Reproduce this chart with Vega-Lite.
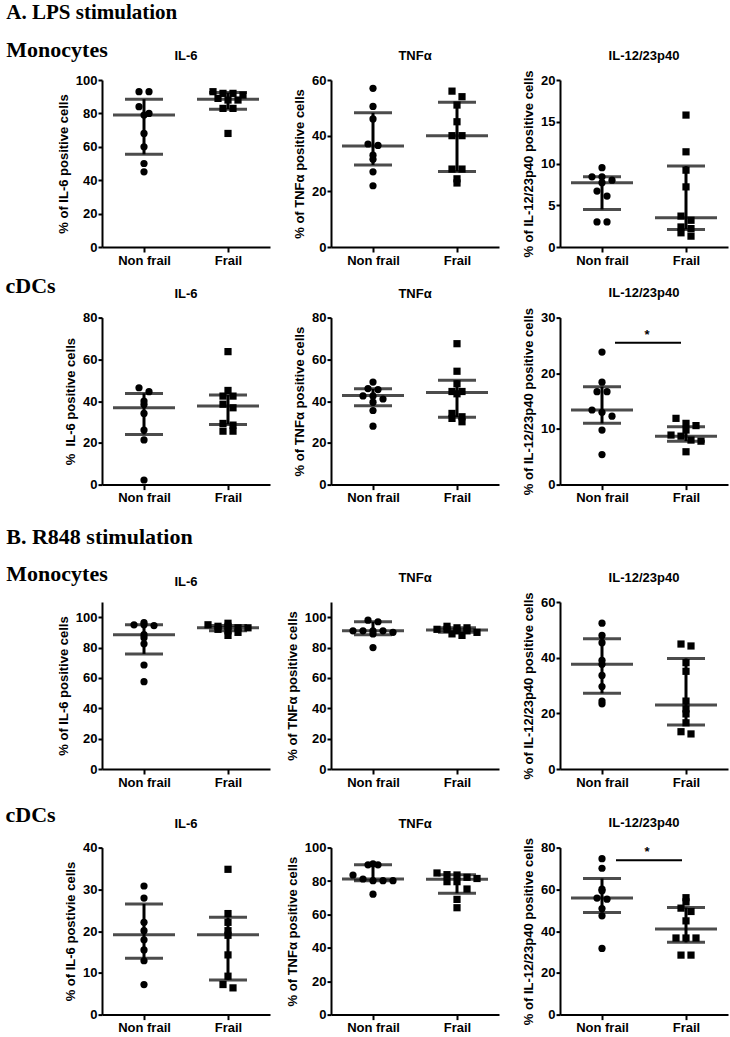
{
"$schema": "https://vega.github.io/schema/vega-lite/v6.json",
"padding": {"left": 5, "top": 1, "right": 2, "bottom": 0},
"background": "white",
"datasets": {
"pts": [
{"panel":"A1","group":"Non frail","value":93},{"panel":"A1","group":"Non frail","value":93},{"panel":"A1","group":"Non frail","value":84},{"panel":"A1","group":"Non frail","value":80},{"panel":"A1","group":"Non frail","value":79},{"panel":"A1","group":"Non frail","value":68},{"panel":"A1","group":"Non frail","value":60},{"panel":"A1","group":"Non frail","value":50},{"panel":"A1","group":"Non frail","value":45},
{"panel":"A1","group":"Frail","value":93},{"panel":"A1","group":"Frail","value":92},{"panel":"A1","group":"Frail","value":92},{"panel":"A1","group":"Frail","value":91},{"panel":"A1","group":"Frail","value":89},{"panel":"A1","group":"Frail","value":88},{"panel":"A1","group":"Frail","value":88},{"panel":"A1","group":"Frail","value":83},{"panel":"A1","group":"Frail","value":83},{"panel":"A1","group":"Frail","value":68},
{"panel":"A2","group":"Non frail","value":57},{"panel":"A2","group":"Non frail","value":50.5},{"panel":"A2","group":"Non frail","value":46},{"panel":"A2","group":"Non frail","value":37},{"panel":"A2","group":"Non frail","value":36.5},{"panel":"A2","group":"Non frail","value":33},{"panel":"A2","group":"Non frail","value":31.5},{"panel":"A2","group":"Non frail","value":27},{"panel":"A2","group":"Non frail","value":22},
{"panel":"A2","group":"Frail","value":56},{"panel":"A2","group":"Frail","value":54},{"panel":"A2","group":"Frail","value":51},{"panel":"A2","group":"Frail","value":45},{"panel":"A2","group":"Frail","value":40},{"panel":"A2","group":"Frail","value":40},{"panel":"A2","group":"Frail","value":28},{"panel":"A2","group":"Frail","value":28},{"panel":"A2","group":"Frail","value":24.5},{"panel":"A2","group":"Frail","value":23},
{"panel":"A3","group":"Non frail","value":9.5},{"panel":"A3","group":"Non frail","value":8.4},{"panel":"A3","group":"Non frail","value":8.4},{"panel":"A3","group":"Non frail","value":8.0},{"panel":"A3","group":"Non frail","value":7.7},{"panel":"A3","group":"Non frail","value":6.7},{"panel":"A3","group":"Non frail","value":6.1},{"panel":"A3","group":"Non frail","value":3.0},{"panel":"A3","group":"Non frail","value":3.0},
{"panel":"A3","group":"Frail","value":15.8},{"panel":"A3","group":"Frail","value":11.4},{"panel":"A3","group":"Frail","value":9.2},{"panel":"A3","group":"Frail","value":7.2},{"panel":"A3","group":"Frail","value":3.7},{"panel":"A3","group":"Frail","value":3.2},{"panel":"A3","group":"Frail","value":2.4},{"panel":"A3","group":"Frail","value":2.2},{"panel":"A3","group":"Frail","value":1.7},{"panel":"A3","group":"Frail","value":1.3},
{"panel":"A4","group":"Non frail","value":46.4},{"panel":"A4","group":"Non frail","value":44.5},{"panel":"A4","group":"Non frail","value":40},{"panel":"A4","group":"Non frail","value":38.4},{"panel":"A4","group":"Non frail","value":34.1},{"panel":"A4","group":"Non frail","value":26.1},{"panel":"A4","group":"Non frail","value":21.4},{"panel":"A4","group":"Non frail","value":2.2},
{"panel":"A4","group":"Frail","value":63.7},{"panel":"A4","group":"Frail","value":45.1},{"panel":"A4","group":"Frail","value":42.4},{"panel":"A4","group":"Frail","value":42.4},{"panel":"A4","group":"Frail","value":38.5},{"panel":"A4","group":"Frail","value":36.8},{"panel":"A4","group":"Frail","value":29.3},{"panel":"A4","group":"Frail","value":28.5},{"panel":"A4","group":"Frail","value":25.6},{"panel":"A4","group":"Frail","value":25.6},
{"panel":"A5","group":"Non frail","value":49.1},{"panel":"A5","group":"Non frail","value":46},{"panel":"A5","group":"Non frail","value":45.5},{"panel":"A5","group":"Non frail","value":42.5},{"panel":"A5","group":"Non frail","value":42.5},{"panel":"A5","group":"Non frail","value":41},{"panel":"A5","group":"Non frail","value":39.5},{"panel":"A5","group":"Non frail","value":35.5},{"panel":"A5","group":"Non frail","value":28},
{"panel":"A5","group":"Frail","value":67.5},{"panel":"A5","group":"Frail","value":54.3},{"panel":"A5","group":"Frail","value":48.3},{"panel":"A5","group":"Frail","value":44.6},{"panel":"A5","group":"Frail","value":44.6},{"panel":"A5","group":"Frail","value":43.5},{"panel":"A5","group":"Frail","value":34.1},{"panel":"A5","group":"Frail","value":32.5},{"panel":"A5","group":"Frail","value":31.7},{"panel":"A5","group":"Frail","value":30.1},
{"panel":"A6","group":"Non frail","value":23.8},{"panel":"A6","group":"Non frail","value":18.4},{"panel":"A6","group":"Non frail","value":16.7},{"panel":"A6","group":"Non frail","value":16.7},{"panel":"A6","group":"Non frail","value":13.4},{"panel":"A6","group":"Non frail","value":13},{"panel":"A6","group":"Non frail","value":12.3},{"panel":"A6","group":"Non frail","value":9.8},{"panel":"A6","group":"Non frail","value":5.4},
{"panel":"A6","group":"Frail","value":11.9},{"panel":"A6","group":"Frail","value":11.0},{"panel":"A6","group":"Frail","value":10.6},{"panel":"A6","group":"Frail","value":9.8},{"panel":"A6","group":"Frail","value":8.9},{"panel":"A6","group":"Frail","value":8.7},{"panel":"A6","group":"Frail","value":8.0},{"panel":"A6","group":"Frail","value":7.8},{"panel":"A6","group":"Frail","value":5.9},
{"panel":"B1","group":"Non frail","value":96.5},{"panel":"B1","group":"Non frail","value":95},{"panel":"B1","group":"Non frail","value":95},{"panel":"B1","group":"Non frail","value":94.5},{"panel":"B1","group":"Non frail","value":88.5},{"panel":"B1","group":"Non frail","value":86.5},{"panel":"B1","group":"Non frail","value":82.5},{"panel":"B1","group":"Non frail","value":68.5},{"panel":"B1","group":"Non frail","value":57.5},
{"panel":"B1","group":"Frail","value":96},{"panel":"B1","group":"Frail","value":95},{"panel":"B1","group":"Frail","value":94},{"panel":"B1","group":"Frail","value":94},{"panel":"B1","group":"Frail","value":93},{"panel":"B1","group":"Frail","value":93},{"panel":"B1","group":"Frail","value":92},{"panel":"B1","group":"Frail","value":91},{"panel":"B1","group":"Frail","value":90},{"panel":"B1","group":"Frail","value":88},
{"panel":"B2","group":"Non frail","value":98},{"panel":"B2","group":"Non frail","value":97},{"panel":"B2","group":"Non frail","value":91},{"panel":"B2","group":"Non frail","value":91},{"panel":"B2","group":"Non frail","value":91},{"panel":"B2","group":"Non frail","value":91},{"panel":"B2","group":"Non frail","value":90},{"panel":"B2","group":"Non frail","value":89},{"panel":"B2","group":"Non frail","value":80},
{"panel":"B2","group":"Frail","value":94},{"panel":"B2","group":"Frail","value":93},{"panel":"B2","group":"Frail","value":93},{"panel":"B2","group":"Frail","value":92},{"panel":"B2","group":"Frail","value":92},{"panel":"B2","group":"Frail","value":91},{"panel":"B2","group":"Frail","value":91},{"panel":"B2","group":"Frail","value":90},{"panel":"B2","group":"Frail","value":89},{"panel":"B2","group":"Frail","value":88},
{"panel":"B3","group":"Non frail","value":52.4},{"panel":"B3","group":"Non frail","value":48},{"panel":"B3","group":"Non frail","value":45.4},{"panel":"B3","group":"Non frail","value":39},{"panel":"B3","group":"Non frail","value":37.6},{"panel":"B3","group":"Non frail","value":33.6},{"panel":"B3","group":"Non frail","value":29.6},{"panel":"B3","group":"Non frail","value":24.4},{"panel":"B3","group":"Non frail","value":23.4},
{"panel":"B3","group":"Frail","value":44.9},{"panel":"B3","group":"Frail","value":44.2},{"panel":"B3","group":"Frail","value":38.2},{"panel":"B3","group":"Frail","value":35.1},{"panel":"B3","group":"Frail","value":24.4},{"panel":"B3","group":"Frail","value":21.6},{"panel":"B3","group":"Frail","value":19.8},{"panel":"B3","group":"Frail","value":16.6},{"panel":"B3","group":"Frail","value":13.4},{"panel":"B3","group":"Frail","value":12.6},
{"panel":"B4","group":"Non frail","value":30.8},{"panel":"B4","group":"Non frail","value":27.9},{"panel":"B4","group":"Non frail","value":22.1},{"panel":"B4","group":"Non frail","value":20.1},{"panel":"B4","group":"Non frail","value":17.9},{"panel":"B4","group":"Non frail","value":15.5},{"panel":"B4","group":"Non frail","value":12.9},{"panel":"B4","group":"Non frail","value":7.2},
{"panel":"B4","group":"Frail","value":34.8},{"panel":"B4","group":"Frail","value":24.2},{"panel":"B4","group":"Frail","value":22.1},{"panel":"B4","group":"Frail","value":20.1},{"panel":"B4","group":"Frail","value":19},{"panel":"B4","group":"Frail","value":14.3},{"panel":"B4","group":"Frail","value":9.2},{"panel":"B4","group":"Frail","value":7.2},{"panel":"B4","group":"Frail","value":6.4},
{"panel":"B5","group":"Non frail","value":90.3},{"panel":"B5","group":"Non frail","value":89.7},{"panel":"B5","group":"Non frail","value":89.7},{"panel":"B5","group":"Non frail","value":83.6},{"panel":"B5","group":"Non frail","value":81.2},{"panel":"B5","group":"Non frail","value":80.2},{"panel":"B5","group":"Non frail","value":80.2},{"panel":"B5","group":"Non frail","value":80.2},{"panel":"B5","group":"Non frail","value":72.1},
{"panel":"B5","group":"Frail","value":84.8},{"panel":"B5","group":"Frail","value":83.8},{"panel":"B5","group":"Frail","value":83.6},{"panel":"B5","group":"Frail","value":82.2},{"panel":"B5","group":"Frail","value":81.5},{"panel":"B5","group":"Frail","value":79.6},{"panel":"B5","group":"Frail","value":79.6},{"panel":"B5","group":"Frail","value":75.2},{"panel":"B5","group":"Frail","value":69},{"panel":"B5","group":"Frail","value":64},
{"panel":"B6","group":"Non frail","value":74.7},{"panel":"B6","group":"Non frail","value":70.1},{"panel":"B6","group":"Non frail","value":60.1},{"panel":"B6","group":"Non frail","value":59.3},{"panel":"B6","group":"Non frail","value":55.8},{"panel":"B6","group":"Non frail","value":55.3},{"panel":"B6","group":"Non frail","value":50.8},{"panel":"B6","group":"Non frail","value":47.3},{"panel":"B6","group":"Non frail","value":31.7},
{"panel":"B6","group":"Frail","value":56},{"panel":"B6","group":"Frail","value":54},{"panel":"B6","group":"Frail","value":51},{"panel":"B6","group":"Frail","value":49.4},{"panel":"B6","group":"Frail","value":44.9},{"panel":"B6","group":"Frail","value":36.7},{"panel":"B6","group":"Frail","value":36.7},{"panel":"B6","group":"Frail","value":36.7},{"panel":"B6","group":"Frail","value":28.5},{"panel":"B6","group":"Frail","value":28.5}
],
"sum": [
{"panel":"A1","group":"Non frail","median":79,"q1":55.5,"q3":88.5},{"panel":"A1","group":"Frail","median":88.5,"q1":82.5,"q3":92.5},
{"panel":"A2","group":"Non frail","median":36.3,"q1":29.5,"q3":48.2},{"panel":"A2","group":"Frail","median":40,"q1":27.1,"q3":52},
{"panel":"A3","group":"Non frail","median":7.7,"q1":4.5,"q3":8.4},{"panel":"A3","group":"Frail","median":3.5,"q1":2.1,"q3":9.7},
{"panel":"A4","group":"Non frail","median":36.8,"q1":24,"q3":43.7},{"panel":"A4","group":"Frail","median":37.6,"q1":28.8,"q3":42.9},
{"panel":"A5","group":"Non frail","median":42.7,"q1":37.8,"q3":45.9},{"panel":"A5","group":"Frail","median":44.1,"q1":32.3,"q3":50},
{"panel":"A6","group":"Non frail","median":13.4,"q1":11,"q3":17.6},{"panel":"A6","group":"Frail","median":8.7,"q1":7.8,"q3":10.4},
{"panel":"B1","group":"Non frail","median":88.5,"q1":75.8,"q3":95},{"panel":"B1","group":"Frail","median":93,"q1":91,"q3":94.5},
{"panel":"B2","group":"Non frail","median":91,"q1":88.5,"q3":97},{"panel":"B2","group":"Frail","median":91.5,"q1":90,"q3":93},
{"panel":"B3","group":"Non frail","median":37.6,"q1":27.2,"q3":46.8},{"panel":"B3","group":"Frail","median":23,"q1":15.8,"q3":39.7},
{"panel":"B4","group":"Non frail","median":19.1,"q1":13.5,"q3":26.5},{"panel":"B4","group":"Frail","median":19.1,"q1":8.3,"q3":23.3},
{"panel":"B5","group":"Non frail","median":81.2,"q1":80.2,"q3":89.7},{"panel":"B5","group":"Frail","median":81,"q1":72.7,"q3":83.7},
{"panel":"B6","group":"Non frail","median":55.8,"q1":48.9,"q3":65.2},{"panel":"B6","group":"Frail","median":41,"q1":34.6,"q3":51.3}
],
"sig": [
{"panel":"A6","level":25.5,"label":"*"},{"panel":"B6","level":74,"label":"*"}
]
},
"spacing": 20,
"vconcat": [
{"spacing": 7.6, "vconcat": [
{"title": {"text": "A. LPS stimulation", "subtitle": "Monocytes", "anchor": "start", "frame": "bounds", "offset": -11, "dx": -51, "font": "Liberation Serif", "fontSize": 21, "fontWeight": "bold", "color": "black", "subtitleFont": "Liberation Serif", "subtitleFontSize": 22, "subtitleFontWeight": "bold", "subtitleColor": "black", "subtitlePadding": 17},
 "bounds": "flush", "spacing": 61,
 "hconcat": [
 {"width": 168, "height": 167, "title": {"text": "IL-6", "offset": 11},
  "encoding": {"x": {"field": "group", "type": "nominal", "scale": {"type": "point", "domain": ["Non frail", "Frail"], "padding": 0.5}, "axis": {"title": null, "labelAngle": 0}}},
  "layer": [
  {"data": {"name": "pts"}, "transform": [{"filter": "datum.panel === 'A1'"}, {"calculate": "floor(datum.value / 5)", "as": "bin"}, {"window": [{"op": "row_number", "as": "rank"}], "groupby": ["group", "bin"], "sort": [{"field": "value", "order": "descending"}]}, {"joinaggregate": [{"op": "count", "as": "n"}], "groupby": ["group", "bin"]}, {"calculate": "datum.rank - (datum.n + 1) / 2", "as": "slot"}],
   "mark": {"type": "point", "filled": true, "size": 52, "opacity": 1, "color": "black", "strokeWidth": 0},
   "encoding": {"xOffset": {"field": "slot", "type": "quantitative", "scale": {"domain": [-5, 5], "range": [-50, 50]}}, "y": {"field": "value", "type": "quantitative", "scale": {"domain": [0, 100], "nice": false}, "axis": {"title": "% of IL-6 positive cells", "values": [0, 20, 40, 60, 80, 100]}}, "shape": {"field": "group", "type": "nominal", "scale": {"domain": ["Non frail", "Frail"], "range": ["circle", "square"]}, "legend": null}}},
  {"data": {"name": "sum"}, "transform": [{"filter": "datum.panel === 'A1'"}], "mark": {"type": "tick", "size": 62, "thickness": 3, "color": "black"}, "encoding": {"y": {"field": "median", "type": "quantitative"}}},
  {"data": {"name": "sum"}, "transform": [{"filter": "datum.panel === 'A1'"}, {"fold": ["q1", "q3"], "as": ["stat", "level"]}], "mark": {"type": "tick", "size": 38, "thickness": 3, "color": "black"}, "encoding": {"y": {"field": "level", "type": "quantitative"}}},
  {"data": {"name": "sum"}, "transform": [{"filter": "datum.panel === 'A1'"}], "mark": {"type": "rule", "strokeWidth": 3, "color": "black"}, "encoding": {"y": {"field": "q1", "type": "quantitative"}, "y2": {"field": "q3"}}}
  ]},
 {"width": 168, "height": 167, "title": {"text": "TNFα", "offset": 11},
  "encoding": {"x": {"field": "group", "type": "nominal", "scale": {"type": "point", "domain": ["Non frail", "Frail"], "padding": 0.5}, "axis": {"title": null, "labelAngle": 0}}},
  "layer": [
  {"data": {"name": "pts"}, "transform": [{"filter": "datum.panel === 'A2'"}, {"calculate": "floor(datum.value / 3)", "as": "bin"}, {"window": [{"op": "row_number", "as": "rank"}], "groupby": ["group", "bin"], "sort": [{"field": "value", "order": "descending"}]}, {"joinaggregate": [{"op": "count", "as": "n"}], "groupby": ["group", "bin"]}, {"calculate": "datum.rank - (datum.n + 1) / 2", "as": "slot"}],
   "mark": {"type": "point", "filled": true, "size": 52, "opacity": 1, "color": "black", "strokeWidth": 0},
   "encoding": {"xOffset": {"field": "slot", "type": "quantitative", "scale": {"domain": [-5, 5], "range": [-50, 50]}}, "y": {"field": "value", "type": "quantitative", "scale": {"domain": [0, 60], "nice": false}, "axis": {"title": "% of TNFα positive cells", "values": [0, 20, 40, 60]}}, "shape": {"field": "group", "type": "nominal", "scale": {"domain": ["Non frail", "Frail"], "range": ["circle", "square"]}, "legend": null}}},
  {"data": {"name": "sum"}, "transform": [{"filter": "datum.panel === 'A2'"}], "mark": {"type": "tick", "size": 62, "thickness": 3, "color": "black"}, "encoding": {"y": {"field": "median", "type": "quantitative"}}},
  {"data": {"name": "sum"}, "transform": [{"filter": "datum.panel === 'A2'"}, {"fold": ["q1", "q3"], "as": ["stat", "level"]}], "mark": {"type": "tick", "size": 38, "thickness": 3, "color": "black"}, "encoding": {"y": {"field": "level", "type": "quantitative"}}},
  {"data": {"name": "sum"}, "transform": [{"filter": "datum.panel === 'A2'"}], "mark": {"type": "rule", "strokeWidth": 3, "color": "black"}, "encoding": {"y": {"field": "q1", "type": "quantitative"}, "y2": {"field": "q3"}}}
  ]},
 {"width": 168, "height": 167, "title": {"text": "IL-12/23p40", "offset": 7.3},
  "encoding": {"x": {"field": "group", "type": "nominal", "scale": {"type": "point", "domain": ["Non frail", "Frail"], "padding": 0.5}, "axis": {"title": null, "labelAngle": 0}}},
  "layer": [
  {"data": {"name": "pts"}, "transform": [{"filter": "datum.panel === 'A3'"}, {"calculate": "floor(datum.value / 1)", "as": "bin"}, {"window": [{"op": "row_number", "as": "rank"}], "groupby": ["group", "bin"], "sort": [{"field": "value", "order": "descending"}]}, {"joinaggregate": [{"op": "count", "as": "n"}], "groupby": ["group", "bin"]}, {"calculate": "datum.rank - (datum.n + 1) / 2", "as": "slot"}],
   "mark": {"type": "point", "filled": true, "size": 52, "opacity": 1, "color": "black", "strokeWidth": 0},
   "encoding": {"xOffset": {"field": "slot", "type": "quantitative", "scale": {"domain": [-5, 5], "range": [-50, 50]}}, "y": {"field": "value", "type": "quantitative", "scale": {"domain": [0, 20], "nice": false}, "axis": {"title": "% of IL-12/23p40 positive cells", "values": [0, 5, 10, 15, 20]}}, "shape": {"field": "group", "type": "nominal", "scale": {"domain": ["Non frail", "Frail"], "range": ["circle", "square"]}, "legend": null}}},
  {"data": {"name": "sum"}, "transform": [{"filter": "datum.panel === 'A3'"}], "mark": {"type": "tick", "size": 62, "thickness": 3, "color": "black"}, "encoding": {"y": {"field": "median", "type": "quantitative"}}},
  {"data": {"name": "sum"}, "transform": [{"filter": "datum.panel === 'A3'"}, {"fold": ["q1", "q3"], "as": ["stat", "level"]}], "mark": {"type": "tick", "size": 38, "thickness": 3, "color": "black"}, "encoding": {"y": {"field": "level", "type": "quantitative"}}},
  {"data": {"name": "sum"}, "transform": [{"filter": "datum.panel === 'A3'"}], "mark": {"type": "rule", "strokeWidth": 3, "color": "black"}, "encoding": {"y": {"field": "q1", "type": "quantitative"}, "y2": {"field": "q3"}}}
  ]}
 ]},
{"title": {"text": "cDCs", "anchor": "start", "frame": "bounds", "offset": -11, "dx": -59, "font": "Liberation Serif", "fontSize": 22, "fontWeight": "bold", "color": "black"},
 "bounds": "flush", "spacing": 61,
 "hconcat": [
 {"width": 168, "height": 167, "title": {"text": "IL-6", "offset": 11},
  "encoding": {"x": {"field": "group", "type": "nominal", "scale": {"type": "point", "domain": ["Non frail", "Frail"], "padding": 0.5}, "axis": {"title": null, "labelAngle": 0}}},
  "layer": [
  {"data": {"name": "pts"}, "transform": [{"filter": "datum.panel === 'A4'"}, {"calculate": "floor(datum.value / 4)", "as": "bin"}, {"window": [{"op": "row_number", "as": "rank"}], "groupby": ["group", "bin"], "sort": [{"field": "value", "order": "descending"}]}, {"joinaggregate": [{"op": "count", "as": "n"}], "groupby": ["group", "bin"]}, {"calculate": "datum.rank - (datum.n + 1) / 2", "as": "slot"}],
   "mark": {"type": "point", "filled": true, "size": 52, "opacity": 1, "color": "black", "strokeWidth": 0},
   "encoding": {"xOffset": {"field": "slot", "type": "quantitative", "scale": {"domain": [-5, 5], "range": [-50, 50]}}, "y": {"field": "value", "type": "quantitative", "scale": {"domain": [0, 80], "nice": false}, "axis": {"title": "%\u00a0 IL-6 positive cells", "values": [0, 20, 40, 60, 80]}}, "shape": {"field": "group", "type": "nominal", "scale": {"domain": ["Non frail", "Frail"], "range": ["circle", "square"]}, "legend": null}}},
  {"data": {"name": "sum"}, "transform": [{"filter": "datum.panel === 'A4'"}], "mark": {"type": "tick", "size": 62, "thickness": 3, "color": "black"}, "encoding": {"y": {"field": "median", "type": "quantitative"}}},
  {"data": {"name": "sum"}, "transform": [{"filter": "datum.panel === 'A4'"}, {"fold": ["q1", "q3"], "as": ["stat", "level"]}], "mark": {"type": "tick", "size": 38, "thickness": 3, "color": "black"}, "encoding": {"y": {"field": "level", "type": "quantitative"}}},
  {"data": {"name": "sum"}, "transform": [{"filter": "datum.panel === 'A4'"}], "mark": {"type": "rule", "strokeWidth": 3, "color": "black"}, "encoding": {"y": {"field": "q1", "type": "quantitative"}, "y2": {"field": "q3"}}}
  ]},
 {"width": 168, "height": 167, "title": {"text": "TNFα", "offset": 11},
  "encoding": {"x": {"field": "group", "type": "nominal", "scale": {"type": "point", "domain": ["Non frail", "Frail"], "padding": 0.5}, "axis": {"title": null, "labelAngle": 0}}},
  "layer": [
  {"data": {"name": "pts"}, "transform": [{"filter": "datum.panel === 'A5'"}, {"calculate": "floor(datum.value / 4)", "as": "bin"}, {"window": [{"op": "row_number", "as": "rank"}], "groupby": ["group", "bin"], "sort": [{"field": "value", "order": "descending"}]}, {"joinaggregate": [{"op": "count", "as": "n"}], "groupby": ["group", "bin"]}, {"calculate": "datum.rank - (datum.n + 1) / 2", "as": "slot"}],
   "mark": {"type": "point", "filled": true, "size": 52, "opacity": 1, "color": "black", "strokeWidth": 0},
   "encoding": {"xOffset": {"field": "slot", "type": "quantitative", "scale": {"domain": [-5, 5], "range": [-50, 50]}}, "y": {"field": "value", "type": "quantitative", "scale": {"domain": [0, 80], "nice": false}, "axis": {"title": "% of TNFα positive cells", "values": [0, 20, 40, 60, 80]}}, "shape": {"field": "group", "type": "nominal", "scale": {"domain": ["Non frail", "Frail"], "range": ["circle", "square"]}, "legend": null}}},
  {"data": {"name": "sum"}, "transform": [{"filter": "datum.panel === 'A5'"}], "mark": {"type": "tick", "size": 62, "thickness": 3, "color": "black"}, "encoding": {"y": {"field": "median", "type": "quantitative"}}},
  {"data": {"name": "sum"}, "transform": [{"filter": "datum.panel === 'A5'"}, {"fold": ["q1", "q3"], "as": ["stat", "level"]}], "mark": {"type": "tick", "size": 38, "thickness": 3, "color": "black"}, "encoding": {"y": {"field": "level", "type": "quantitative"}}},
  {"data": {"name": "sum"}, "transform": [{"filter": "datum.panel === 'A5'"}], "mark": {"type": "rule", "strokeWidth": 3, "color": "black"}, "encoding": {"y": {"field": "q1", "type": "quantitative"}, "y2": {"field": "q3"}}}
  ]},
 {"width": 168, "height": 167, "title": {"text": "IL-12/23p40", "offset": 7.3},
  "encoding": {"x": {"field": "group", "type": "nominal", "scale": {"type": "point", "domain": ["Non frail", "Frail"], "padding": 0.5}, "axis": {"title": null, "labelAngle": 0}}},
  "layer": [
  {"data": {"name": "pts"}, "transform": [{"filter": "datum.panel === 'A6'"}, {"calculate": "floor(datum.value / 1.5)", "as": "bin"}, {"window": [{"op": "row_number", "as": "rank"}], "groupby": ["group", "bin"], "sort": [{"field": "value", "order": "descending"}]}, {"joinaggregate": [{"op": "count", "as": "n"}], "groupby": ["group", "bin"]}, {"calculate": "datum.rank - (datum.n + 1) / 2", "as": "slot"}],
   "mark": {"type": "point", "filled": true, "size": 52, "opacity": 1, "color": "black", "strokeWidth": 0},
   "encoding": {"xOffset": {"field": "slot", "type": "quantitative", "scale": {"domain": [-5, 5], "range": [-50, 50]}}, "y": {"field": "value", "type": "quantitative", "scale": {"domain": [0, 30], "nice": false}, "axis": {"title": "% of IL-12/23p40 positive cells", "values": [0, 10, 20, 30]}}, "shape": {"field": "group", "type": "nominal", "scale": {"domain": ["Non frail", "Frail"], "range": ["circle", "square"]}, "legend": null}}},
  {"data": {"name": "sum"}, "transform": [{"filter": "datum.panel === 'A6'"}], "mark": {"type": "tick", "size": 62, "thickness": 3, "color": "black"}, "encoding": {"y": {"field": "median", "type": "quantitative"}}},
  {"data": {"name": "sum"}, "transform": [{"filter": "datum.panel === 'A6'"}, {"fold": ["q1", "q3"], "as": ["stat", "level"]}], "mark": {"type": "tick", "size": 38, "thickness": 3, "color": "black"}, "encoding": {"y": {"field": "level", "type": "quantitative"}}},
  {"data": {"name": "sum"}, "transform": [{"filter": "datum.panel === 'A6'"}], "mark": {"type": "rule", "strokeWidth": 3, "color": "black"}, "encoding": {"y": {"field": "q1", "type": "quantitative"}, "y2": {"field": "q3"}}},
  {"data": {"name": "sig"}, "transform": [{"filter": "datum.panel === 'A6'"}], "mark": {"type": "rule", "strokeWidth": 2, "color": "black", "xOffset": 13, "x2Offset": -5}, "encoding": {"x": {"datum": "Non frail"}, "x2": {"datum": "Frail"}, "y": {"field": "level", "type": "quantitative"}}},
  {"data": {"name": "sig"}, "transform": [{"filter": "datum.panel === 'A6'"}], "mark": {"type": "text", "dx": 45, "dy": -4, "fontSize": 13, "fontWeight": "bold", "font": "Liberation Sans", "color": "black", "baseline": "alphabetic", "align": "center"}, "encoding": {"x": {"datum": "Non frail"}, "y": {"field": "level", "type": "quantitative"}, "text": {"field": "label"}}}
  ]}
 ]}
]},
{"spacing": 14.6, "vconcat": [
{"title": {"text": "B. R848 stimulation", "subtitle": "Monocytes", "anchor": "start", "frame": "bounds", "offset": -14, "dx": -51, "font": "Liberation Serif", "fontSize": 22, "fontWeight": "bold", "color": "black", "subtitleFont": "Liberation Serif", "subtitleFontSize": 22, "subtitleFontWeight": "bold", "subtitleColor": "black", "subtitlePadding": 15},
 "bounds": "flush", "spacing": 61,
 "hconcat": [
 {"width": 168, "height": 167, "title": {"text": "IL-6", "offset": 13.3},
  "encoding": {"x": {"field": "group", "type": "nominal", "scale": {"type": "point", "domain": ["Non frail", "Frail"], "padding": 0.5}, "axis": {"title": null, "labelAngle": 0}}},
  "layer": [
  {"data": {"name": "pts"}, "transform": [{"filter": "datum.panel === 'B1'"}, {"calculate": "floor(datum.value / 3)", "as": "bin"}, {"window": [{"op": "row_number", "as": "rank"}], "groupby": ["group", "bin"], "sort": [{"field": "value", "order": "descending"}]}, {"joinaggregate": [{"op": "count", "as": "n"}], "groupby": ["group", "bin"]}, {"calculate": "datum.rank - (datum.n + 1) / 2", "as": "slot"}],
   "mark": {"type": "point", "filled": true, "size": 52, "opacity": 1, "color": "black", "strokeWidth": 0},
   "encoding": {"xOffset": {"field": "slot", "type": "quantitative", "scale": {"domain": [-5, 5], "range": [-50, 50]}}, "y": {"field": "value", "type": "quantitative", "scale": {"domain": [0, 110], "nice": false}, "axis": {"title": "% of IL-6 positive cells", "values": [0, 20, 40, 60, 80, 100]}}, "shape": {"field": "group", "type": "nominal", "scale": {"domain": ["Non frail", "Frail"], "range": ["circle", "square"]}, "legend": null}}},
  {"data": {"name": "sum"}, "transform": [{"filter": "datum.panel === 'B1'"}], "mark": {"type": "tick", "size": 62, "thickness": 3, "color": "black"}, "encoding": {"y": {"field": "median", "type": "quantitative"}}},
  {"data": {"name": "sum"}, "transform": [{"filter": "datum.panel === 'B1'"}, {"fold": ["q1", "q3"], "as": ["stat", "level"]}], "mark": {"type": "tick", "size": 38, "thickness": 3, "color": "black"}, "encoding": {"y": {"field": "level", "type": "quantitative"}}},
  {"data": {"name": "sum"}, "transform": [{"filter": "datum.panel === 'B1'"}], "mark": {"type": "rule", "strokeWidth": 3, "color": "black"}, "encoding": {"y": {"field": "q1", "type": "quantitative"}, "y2": {"field": "q3"}}}
  ]},
 {"width": 168, "height": 167, "title": {"text": "TNFα", "offset": 17.3},
  "encoding": {"x": {"field": "group", "type": "nominal", "scale": {"type": "point", "domain": ["Non frail", "Frail"], "padding": 0.5}, "axis": {"title": null, "labelAngle": 0}}},
  "layer": [
  {"data": {"name": "pts"}, "transform": [{"filter": "datum.panel === 'B2'"}, {"calculate": "floor(datum.value / 3)", "as": "bin"}, {"window": [{"op": "row_number", "as": "rank"}], "groupby": ["group", "bin"], "sort": [{"field": "value", "order": "descending"}]}, {"joinaggregate": [{"op": "count", "as": "n"}], "groupby": ["group", "bin"]}, {"calculate": "datum.rank - (datum.n + 1) / 2", "as": "slot"}],
   "mark": {"type": "point", "filled": true, "size": 52, "opacity": 1, "color": "black", "strokeWidth": 0},
   "encoding": {"xOffset": {"field": "slot", "type": "quantitative", "scale": {"domain": [-5, 5], "range": [-50, 50]}}, "y": {"field": "value", "type": "quantitative", "scale": {"domain": [0, 110], "nice": false}, "axis": {"title": "% of TNFα positive cells", "values": [0, 20, 40, 60, 80, 100]}}, "shape": {"field": "group", "type": "nominal", "scale": {"domain": ["Non frail", "Frail"], "range": ["circle", "square"]}, "legend": null}}},
  {"data": {"name": "sum"}, "transform": [{"filter": "datum.panel === 'B2'"}], "mark": {"type": "tick", "size": 62, "thickness": 3, "color": "black"}, "encoding": {"y": {"field": "median", "type": "quantitative"}}},
  {"data": {"name": "sum"}, "transform": [{"filter": "datum.panel === 'B2'"}, {"fold": ["q1", "q3"], "as": ["stat", "level"]}], "mark": {"type": "tick", "size": 38, "thickness": 3, "color": "black"}, "encoding": {"y": {"field": "level", "type": "quantitative"}}},
  {"data": {"name": "sum"}, "transform": [{"filter": "datum.panel === 'B2'"}], "mark": {"type": "rule", "strokeWidth": 3, "color": "black"}, "encoding": {"y": {"field": "q1", "type": "quantitative"}, "y2": {"field": "q3"}}}
  ]},
 {"width": 168, "height": 167, "title": {"text": "IL-12/23p40", "offset": 7.3},
  "encoding": {"x": {"field": "group", "type": "nominal", "scale": {"type": "point", "domain": ["Non frail", "Frail"], "padding": 0.5}, "axis": {"title": null, "labelAngle": 0}}},
  "layer": [
  {"data": {"name": "pts"}, "transform": [{"filter": "datum.panel === 'B3'"}, {"calculate": "floor(datum.value / 3)", "as": "bin"}, {"window": [{"op": "row_number", "as": "rank"}], "groupby": ["group", "bin"], "sort": [{"field": "value", "order": "descending"}]}, {"joinaggregate": [{"op": "count", "as": "n"}], "groupby": ["group", "bin"]}, {"calculate": "datum.rank - (datum.n + 1) / 2", "as": "slot"}],
   "mark": {"type": "point", "filled": true, "size": 52, "opacity": 1, "color": "black", "strokeWidth": 0},
   "encoding": {"xOffset": {"field": "slot", "type": "quantitative", "scale": {"domain": [-5, 5], "range": [-50, 50]}}, "y": {"field": "value", "type": "quantitative", "scale": {"domain": [0, 60], "nice": false}, "axis": {"title": "% of IL-12/23p40 positive cells", "values": [0, 20, 40, 60]}}, "shape": {"field": "group", "type": "nominal", "scale": {"domain": ["Non frail", "Frail"], "range": ["circle", "square"]}, "legend": null}}},
  {"data": {"name": "sum"}, "transform": [{"filter": "datum.panel === 'B3'"}], "mark": {"type": "tick", "size": 62, "thickness": 3, "color": "black"}, "encoding": {"y": {"field": "median", "type": "quantitative"}}},
  {"data": {"name": "sum"}, "transform": [{"filter": "datum.panel === 'B3'"}, {"fold": ["q1", "q3"], "as": ["stat", "level"]}], "mark": {"type": "tick", "size": 38, "thickness": 3, "color": "black"}, "encoding": {"y": {"field": "level", "type": "quantitative"}}},
  {"data": {"name": "sum"}, "transform": [{"filter": "datum.panel === 'B3'"}], "mark": {"type": "rule", "strokeWidth": 3, "color": "black"}, "encoding": {"y": {"field": "q1", "type": "quantitative"}, "y2": {"field": "q3"}}}
  ]}
 ]},
{"title": {"text": "cDCs", "anchor": "start", "frame": "bounds", "offset": -10, "dx": -59, "font": "Liberation Serif", "fontSize": 22, "fontWeight": "bold", "color": "black"},
 "bounds": "flush", "spacing": 61,
 "hconcat": [
 {"width": 168, "height": 167, "title": {"text": "IL-6", "offset": 11},
  "encoding": {"x": {"field": "group", "type": "nominal", "scale": {"type": "point", "domain": ["Non frail", "Frail"], "padding": 0.5}, "axis": {"title": null, "labelAngle": 0}}},
  "layer": [
  {"data": {"name": "pts"}, "transform": [{"filter": "datum.panel === 'B4'"}, {"calculate": "floor(datum.value / 2)", "as": "bin"}, {"window": [{"op": "row_number", "as": "rank"}], "groupby": ["group", "bin"], "sort": [{"field": "value", "order": "descending"}]}, {"joinaggregate": [{"op": "count", "as": "n"}], "groupby": ["group", "bin"]}, {"calculate": "datum.rank - (datum.n + 1) / 2", "as": "slot"}],
   "mark": {"type": "point", "filled": true, "size": 52, "opacity": 1, "color": "black", "strokeWidth": 0},
   "encoding": {"xOffset": {"field": "slot", "type": "quantitative", "scale": {"domain": [-5, 5], "range": [-50, 50]}}, "y": {"field": "value", "type": "quantitative", "scale": {"domain": [0, 40], "nice": false}, "axis": {"title": "% of IL-6 postivie cells", "values": [0, 10, 20, 30, 40]}}, "shape": {"field": "group", "type": "nominal", "scale": {"domain": ["Non frail", "Frail"], "range": ["circle", "square"]}, "legend": null}}},
  {"data": {"name": "sum"}, "transform": [{"filter": "datum.panel === 'B4'"}], "mark": {"type": "tick", "size": 62, "thickness": 3, "color": "black"}, "encoding": {"y": {"field": "median", "type": "quantitative"}}},
  {"data": {"name": "sum"}, "transform": [{"filter": "datum.panel === 'B4'"}, {"fold": ["q1", "q3"], "as": ["stat", "level"]}], "mark": {"type": "tick", "size": 38, "thickness": 3, "color": "black"}, "encoding": {"y": {"field": "level", "type": "quantitative"}}},
  {"data": {"name": "sum"}, "transform": [{"filter": "datum.panel === 'B4'"}], "mark": {"type": "rule", "strokeWidth": 3, "color": "black"}, "encoding": {"y": {"field": "q1", "type": "quantitative"}, "y2": {"field": "q3"}}}
  ]},
 {"width": 168, "height": 167, "title": {"text": "TNFα", "offset": 11},
  "encoding": {"x": {"field": "group", "type": "nominal", "scale": {"type": "point", "domain": ["Non frail", "Frail"], "padding": 0.5}, "axis": {"title": null, "labelAngle": 0}}},
  "layer": [
  {"data": {"name": "pts"}, "transform": [{"filter": "datum.panel === 'B5'"}, {"calculate": "floor(datum.value / 5)", "as": "bin"}, {"window": [{"op": "row_number", "as": "rank"}], "groupby": ["group", "bin"], "sort": [{"field": "value", "order": "descending"}]}, {"joinaggregate": [{"op": "count", "as": "n"}], "groupby": ["group", "bin"]}, {"calculate": "datum.rank - (datum.n + 1) / 2", "as": "slot"}],
   "mark": {"type": "point", "filled": true, "size": 52, "opacity": 1, "color": "black", "strokeWidth": 0},
   "encoding": {"xOffset": {"field": "slot", "type": "quantitative", "scale": {"domain": [-5, 5], "range": [-50, 50]}}, "y": {"field": "value", "type": "quantitative", "scale": {"domain": [0, 100], "nice": false}, "axis": {"title": "% of TNFα positive cells", "values": [0, 20, 40, 60, 80, 100]}}, "shape": {"field": "group", "type": "nominal", "scale": {"domain": ["Non frail", "Frail"], "range": ["circle", "square"]}, "legend": null}}},
  {"data": {"name": "sum"}, "transform": [{"filter": "datum.panel === 'B5'"}], "mark": {"type": "tick", "size": 62, "thickness": 3, "color": "black"}, "encoding": {"y": {"field": "median", "type": "quantitative"}}},
  {"data": {"name": "sum"}, "transform": [{"filter": "datum.panel === 'B5'"}, {"fold": ["q1", "q3"], "as": ["stat", "level"]}], "mark": {"type": "tick", "size": 38, "thickness": 3, "color": "black"}, "encoding": {"y": {"field": "level", "type": "quantitative"}}},
  {"data": {"name": "sum"}, "transform": [{"filter": "datum.panel === 'B5'"}], "mark": {"type": "rule", "strokeWidth": 3, "color": "black"}, "encoding": {"y": {"field": "q1", "type": "quantitative"}, "y2": {"field": "q3"}}}
  ]},
 {"width": 168, "height": 167, "title": {"text": "IL-12/23p40", "offset": 7.3},
  "encoding": {"x": {"field": "group", "type": "nominal", "scale": {"type": "point", "domain": ["Non frail", "Frail"], "padding": 0.5}, "axis": {"title": null, "labelAngle": 0}}},
  "layer": [
  {"data": {"name": "pts"}, "transform": [{"filter": "datum.panel === 'B6'"}, {"calculate": "floor(datum.value / 4)", "as": "bin"}, {"window": [{"op": "row_number", "as": "rank"}], "groupby": ["group", "bin"], "sort": [{"field": "value", "order": "descending"}]}, {"joinaggregate": [{"op": "count", "as": "n"}], "groupby": ["group", "bin"]}, {"calculate": "datum.rank - (datum.n + 1) / 2", "as": "slot"}],
   "mark": {"type": "point", "filled": true, "size": 52, "opacity": 1, "color": "black", "strokeWidth": 0},
   "encoding": {"xOffset": {"field": "slot", "type": "quantitative", "scale": {"domain": [-5, 5], "range": [-50, 50]}}, "y": {"field": "value", "type": "quantitative", "scale": {"domain": [0, 80], "nice": false}, "axis": {"title": "% of IL-12/23p40 positive cells", "values": [0, 20, 40, 60, 80]}}, "shape": {"field": "group", "type": "nominal", "scale": {"domain": ["Non frail", "Frail"], "range": ["circle", "square"]}, "legend": null}}},
  {"data": {"name": "sum"}, "transform": [{"filter": "datum.panel === 'B6'"}], "mark": {"type": "tick", "size": 62, "thickness": 3, "color": "black"}, "encoding": {"y": {"field": "median", "type": "quantitative"}}},
  {"data": {"name": "sum"}, "transform": [{"filter": "datum.panel === 'B6'"}, {"fold": ["q1", "q3"], "as": ["stat", "level"]}], "mark": {"type": "tick", "size": 38, "thickness": 3, "color": "black"}, "encoding": {"y": {"field": "level", "type": "quantitative"}}},
  {"data": {"name": "sum"}, "transform": [{"filter": "datum.panel === 'B6'"}], "mark": {"type": "rule", "strokeWidth": 3, "color": "black"}, "encoding": {"y": {"field": "q1", "type": "quantitative"}, "y2": {"field": "q3"}}},
  {"data": {"name": "sig"}, "transform": [{"filter": "datum.panel === 'B6'"}], "mark": {"type": "rule", "strokeWidth": 2, "color": "black", "xOffset": 14, "x2Offset": -4}, "encoding": {"x": {"datum": "Non frail"}, "x2": {"datum": "Frail"}, "y": {"field": "level", "type": "quantitative"}}},
  {"data": {"name": "sig"}, "transform": [{"filter": "datum.panel === 'B6'"}], "mark": {"type": "text", "dx": 45, "dy": -4, "fontSize": 13, "fontWeight": "bold", "font": "Liberation Sans", "color": "black", "baseline": "alphabetic", "align": "center"}, "encoding": {"x": {"datum": "Non frail"}, "y": {"field": "level", "type": "quantitative"}, "text": {"field": "label"}}}
  ]}
 ]}
]}
],
"config": {
"view": {"stroke": null},
"font": "Liberation Sans",
"axis": {"grid": false, "labelOverlap": false, "domainColor": "black", "domainWidth": 2, "tickColor": "black", "tickWidth": 2, "labelColor": "black", "labelFont": "Liberation Sans", "labelFontSize": 13, "labelFontWeight": "bold", "titleColor": "black", "titleFont": "Liberation Sans", "titleFontSize": 13, "titleFontWeight": "bold"},
"axisX": {"tickSize": 5, "labelPadding": 2, "labelAngle": 0},
"axisY": {"tickSize": 4, "labelPadding": 1, "titlePadding": 5, "tickCount": 12},
"title": {"font": "Liberation Sans", "fontSize": 13, "fontWeight": "bold", "color": "black", "anchor": "middle", "frame": "group"}
}
}
